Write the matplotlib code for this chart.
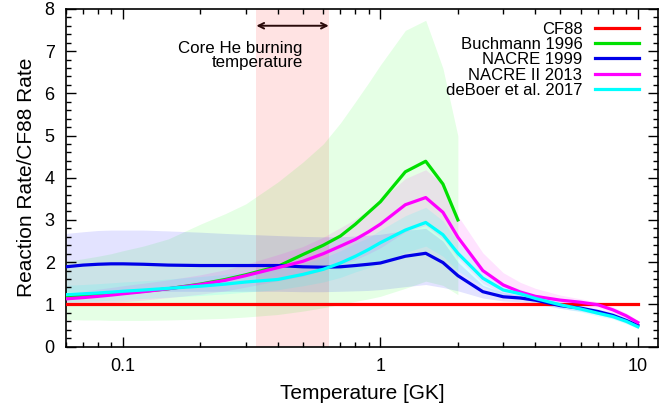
import numpy as np
import matplotlib
matplotlib.use("Agg")
import matplotlib.pyplot as plt
from matplotlib.ticker import LogLocator, MultipleLocator, NullFormatter, FixedLocator, FixedFormatter

plt.rcParams['font.family'] = ['Liberation Sans', 'DejaVu Sans']

# temperature grid [GK]
T = [0.06, 0.07, 0.08, 0.09, 0.1, 0.12, 0.15, 0.2, 0.25, 0.3, 0.4, 0.5, 0.6, 0.7, 0.8, 0.9,
     1.0, 1.25, 1.5, 1.75, 2.0, 2.5, 3.0, 3.5, 4.0, 5.0, 6.0, 7.0, 8.0, 9.0, 10.0]
T_cf88 = [0.06, 10.0]
cf88 = [1.0, 1.0]

# Buchmann 1996 (tabulated only up to 2 GK)
T_buch = T[:21]
buch = [1.19, 1.21, 1.23, 1.25, 1.27, 1.31, 1.37, 1.48, 1.59, 1.70, 1.90, 2.18, 2.40, 2.62, 2.90,
        3.18, 3.43, 4.14, 4.39, 3.85, 3.00]
buch_lo = [0.64, 0.63, 0.63, 0.62, 0.62, 0.62, 0.63, 0.65, 0.67, 0.70, 0.76, 0.84, 0.92, 1.00, 1.07,
           1.13, 1.19, 1.38, 1.55, 1.45, 1.23]
buch_hi = [2.02, 2.08, 2.14, 2.20, 2.27, 2.38, 2.55, 2.90, 3.15, 3.38, 3.90, 4.37, 4.80, 5.30, 5.80,
           6.25, 6.67, 7.49, 7.73, 6.59, 4.99]

nacre = [1.89, 1.93, 1.95, 1.96, 1.96, 1.95, 1.93, 1.92, 1.92, 1.92, 1.92, 1.89, 1.88, 1.89, 1.92, 1.95,
         1.98, 2.14, 2.21, 1.99, 1.68, 1.30, 1.18, 1.15, 1.10, 0.97, 0.91, 0.83, 0.74, 0.62, 0.50]
nacre_hi = [2.68, 2.72, 2.75, 2.76, 2.76, 2.76, 2.74, 2.71, 2.68, 2.66, 2.63, 2.61, 2.60, 2.60, 2.62, 2.64,
            2.66, 2.75, 2.80, 2.50, 2.00, 1.45, 1.28, 1.22, 1.17, 1.04, 0.97, 0.90, 0.81, 0.69, 0.56]
nacre_lo = [1.30, 1.31, 1.32, 1.32, 1.32, 1.32, 1.31, 1.31, 1.31, 1.31, 1.31, 1.30, 1.30, 1.31, 1.32, 1.33,
            1.35, 1.42, 1.47, 1.40, 1.32, 1.15, 1.08, 1.06, 1.02, 0.90, 0.84, 0.76, 0.67, 0.56, 0.44]

nacre2 = [1.13, 1.16, 1.19, 1.22, 1.25, 1.30, 1.37, 1.47, 1.57, 1.68, 1.87, 2.02, 2.20, 2.38, 2.54, 2.72,
          2.90, 3.36, 3.53, 3.18, 2.59, 1.80, 1.46, 1.29, 1.19, 1.10, 1.05, 0.99, 0.87, 0.73, 0.57]
nacre2_hi = [1.28, 1.32, 1.36, 1.40, 1.44, 1.50, 1.58, 1.70, 1.82, 1.95, 2.18, 2.37, 2.59, 2.82, 3.02, 3.24,
             3.46, 3.98, 4.19, 3.85, 3.10, 2.22, 1.75, 1.52, 1.38, 1.22, 1.13, 1.06, 0.94, 0.80, 0.62]
nacre2_lo = [0.98, 1.00, 1.02, 1.04, 1.06, 1.10, 1.16, 1.24, 1.32, 1.41, 1.56, 1.67, 1.81, 1.94, 2.06, 2.20,
             2.34, 2.72, 2.87, 2.55, 2.10, 1.50, 1.25, 1.13, 1.07, 1.00, 0.96, 0.92, 0.81, 0.67, 0.52]

deboer = [1.23, 1.25, 1.27, 1.29, 1.31, 1.34, 1.38, 1.43, 1.48, 1.53, 1.59, 1.71, 1.83, 1.98, 2.14, 2.30,
          2.46, 2.76, 2.94, 2.65, 2.21, 1.62, 1.34, 1.25, 1.14, 0.99, 0.89, 0.79, 0.71, 0.60, 0.47]
deboer_hi = [1.45, 1.47, 1.49, 1.51, 1.53, 1.56, 1.60, 1.66, 1.71, 1.76, 1.84, 1.97, 2.10, 2.27, 2.45, 2.58,
             2.76, 3.10, 3.30, 2.98, 2.48, 1.80, 1.47, 1.36, 1.24, 1.07, 0.96, 0.86, 0.77, 0.66, 0.52]
deboer_lo = [1.05, 1.07, 1.08, 1.10, 1.11, 1.14, 1.17, 1.21, 1.25, 1.29, 1.35, 1.44, 1.53, 1.64, 1.77, 1.87,
             1.99, 2.23, 2.38, 2.14, 1.79, 1.42, 1.20, 1.13, 1.04, 0.91, 0.82, 0.72, 0.65, 0.54, 0.42]

he_band = (0.33, 0.63)

RED, GREEN, BLUE, MAG, CYAN = '#ff0000', '#00e000', '#0000e8', '#ff00ff', '#00ffff'

fig = plt.figure(figsize=(6.71, 4.03), dpi=100)
ax = fig.add_axes([0.098, 0.140, 0.883, 0.838])

ax.axvspan(*he_band, color='#ff0000', alpha=0.11, lw=0, zorder=0)
ax.fill_between(T_buch, buch_lo, buch_hi, color='#00ff00', alpha=0.10, lw=0, zorder=1)
ax.fill_between(T, nacre_lo, nacre_hi, color='#0000ff', alpha=0.11, lw=0, zorder=1)
ax.fill_between(T, nacre2_lo, nacre2_hi, color='#ff00ff', alpha=0.11, lw=0, zorder=1)
ax.fill_between(T, deboer_lo, deboer_hi, color='#00ffff', alpha=0.12, lw=0, zorder=1)

lw = 2.3
ax.plot(T_cf88, cf88, color=RED, lw=lw, label='CF88', zorder=3)
ax.plot(T_buch, buch, color=GREEN, lw=lw, label='Buchmann 1996', zorder=3)
ax.plot(T, nacre, color=BLUE, lw=lw, label='NACRE 1999', zorder=3)
ax.plot(T, nacre2, color=MAG, lw=lw, label='NACRE II 2013', zorder=3)
ax.plot(T, deboer, color=CYAN, lw=lw, label='deBoer et al. 2017', zorder=3)

ax.annotate('', xy=(he_band[0], 7.6), xytext=(he_band[1], 7.6),
            arrowprops=dict(arrowstyle='<->', color='#2a0a0a', lw=1.4, shrinkA=0, shrinkB=0))
ax.text(0.5, 6.9, 'Core He burning\ntemperature', ha='right', va='center',
        multialignment='right', fontsize=12.2, linespacing=0.95)

ax.set_xscale('log')
ax.set_xlim(0.06, 12)
ax.set_ylim(0, 8)
ax.xaxis.set_major_locator(FixedLocator([0.1, 1, 10]))
ax.xaxis.set_major_formatter(FixedFormatter(['0.1', '1', '10']))
ax.xaxis.set_minor_locator(LogLocator(base=10, subs=np.arange(2, 10)))
ax.xaxis.set_minor_formatter(NullFormatter())
ax.yaxis.set_major_locator(MultipleLocator(1))
ax.yaxis.set_minor_locator(MultipleLocator(0.2))
ax.tick_params(which='both', direction='in', top=True, right=True, labelsize=13, width=1.0)
ax.tick_params(which='major', length=7, pad=8)
ax.tick_params(which='minor', length=3.5)
for s in ax.spines.values():
    s.set_linewidth(1.2)

ax.set_xlabel('Temperature [GK]', fontsize=15, labelpad=7)
ax.set_ylabel('Reaction Rate/CF88 Rate', fontsize=15, labelpad=6)

ax.legend(loc='upper right', bbox_to_anchor=(0.99, 1.002), frameon=False, markerfirst=False,
          fontsize=12, handlelength=2.65, handletextpad=0.75, labelspacing=0.02, borderpad=0.3)

fig.savefig('out.png', dpi=100)
